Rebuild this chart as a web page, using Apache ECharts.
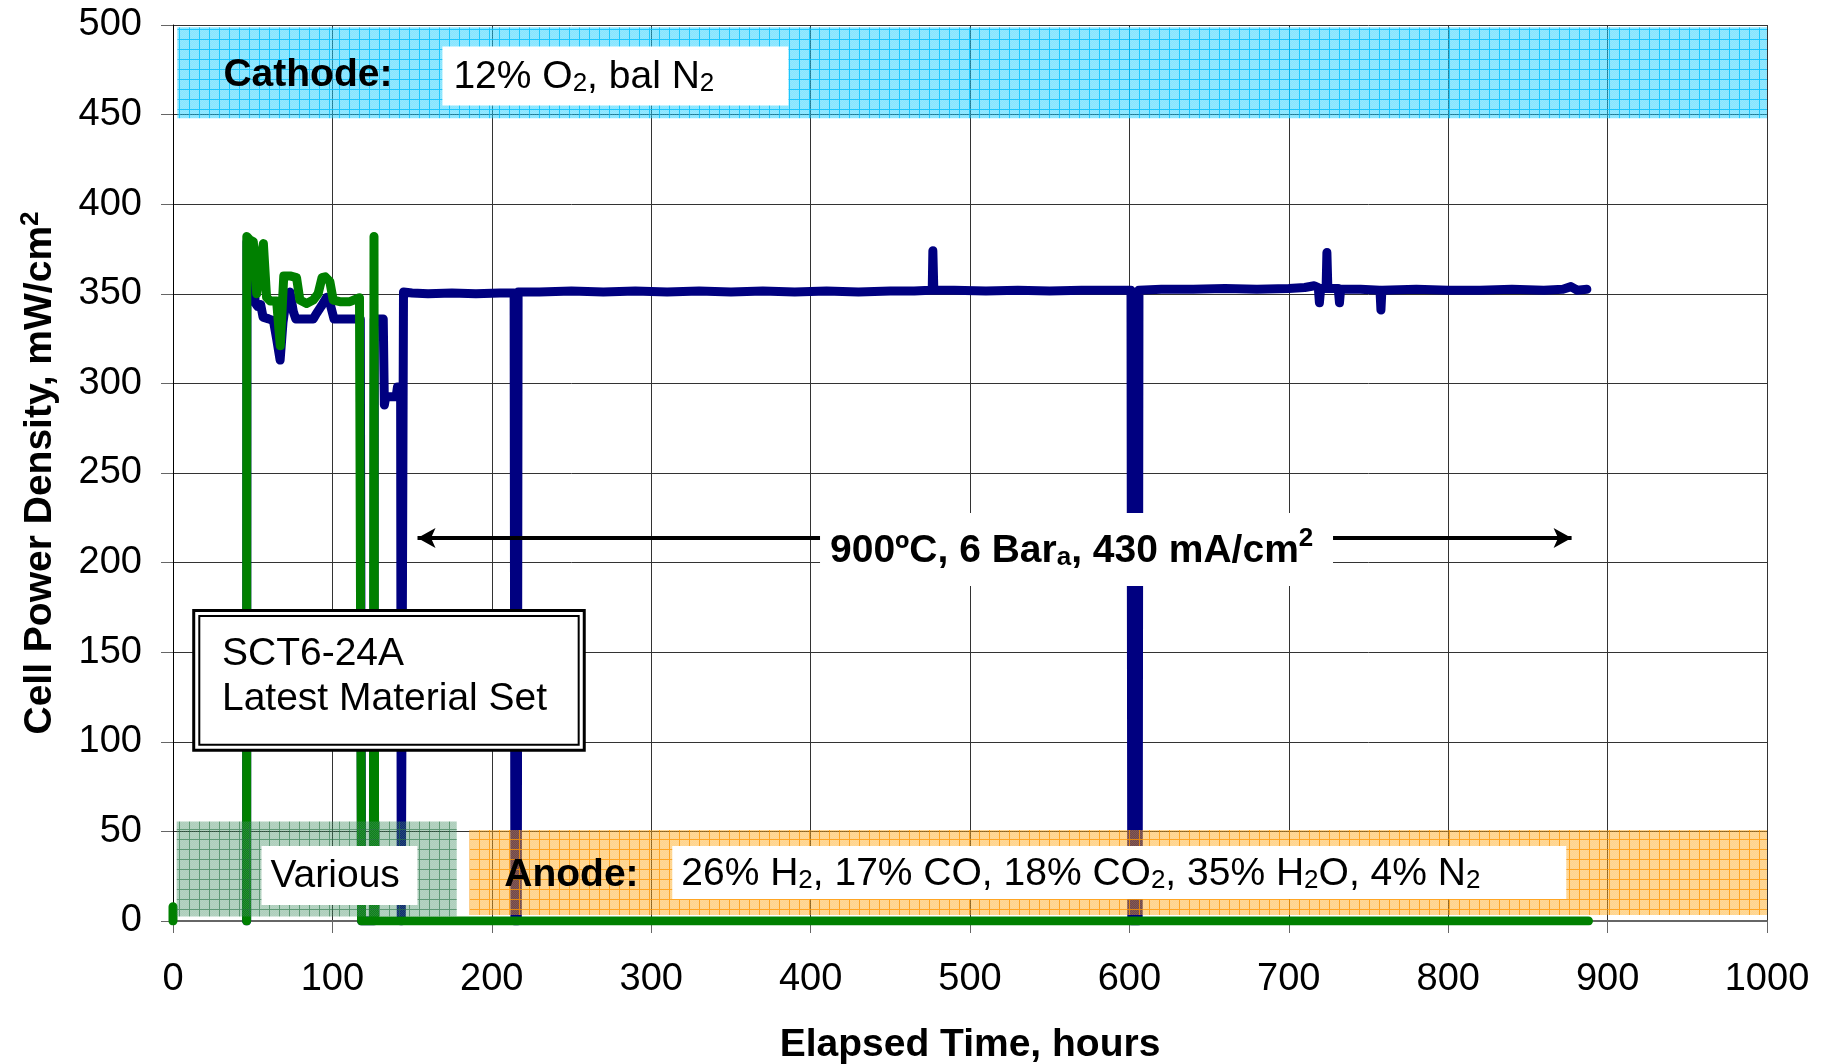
<!DOCTYPE html>
<html>
<head>
<meta charset="utf-8">
<script src="https://cdn.jsdelivr.net/npm/echarts@6/dist/echarts.min.js"></script>
<style>
  html, body { margin: 0; padding: 0; background: #fff; }
  #chart { width: 1829px; height: 1064px; }
</style>
</head>
<body>
<div id="chart"></div>
<script>
// SCT6-24A cell: power density against elapsed time.

// Axis ticks
const xTicks = [0, 100, 200, 300, 400, 500, 600, 700, 800, 900, 1000];
const yTicks = [0, 50, 100, 150, 200, 250, 300, 350, 400, 450, 500];

// Cell trace (navy), hours / mW/cm2
const blueHours = [
  46.2, 46.4, 48, 50.5, 51.5, 53, 55, 56.5, 60, 63, 65, 67.2, 69, 71.5, 73.4, 75.5, 77, 82, 88, 90,
  93, 96.4, 98.4, 101, 108, 117.5, 118.3, 125.9, 126.3, 131.9, 132.6, 133.5, 140, 140.8, 142.8, 143.2,
  144.2, 144.6, 150, 160, 175, 190, 205, 214, 214.5, 216, 216.5, 230, 250, 270, 290, 310, 330, 350,
  370, 390, 410, 430, 450, 465, 475, 476.3, 476.7, 477.3, 490, 510, 530, 550, 570, 590, 601, 601.5,
  605.5, 606, 620, 640, 660, 680, 700, 710, 716, 718.5, 719.2, 720, 723.4, 723.9, 724.5, 731, 731.8,
  732.5, 745, 757.2, 757.8, 758.4, 780, 800, 820, 840, 860, 872, 877, 881, 887
];
const bluePower = [
  0, 379, 377, 375, 345, 343, 344, 337, 336, 335, 325, 313, 334, 350, 351, 340, 336, 336, 336, 339,
  343, 348, 345, 336, 336, 336, 0, 0, 336, 336, 288, 292.6, 292.6, 298, 298, 0,
  0, 351, 350.5, 350, 350.5, 350, 350.5, 350.5, 0, 0, 351, 351, 351.5, 351, 351.5, 351, 351.5, 351,
  351.5, 351, 351.5, 351, 351.5, 351.5, 352, 352, 374, 352, 352, 351.5, 352, 351.5, 352, 352, 352, 0,
  0, 352, 352.5, 352.5, 353, 352.5, 353, 353.5, 354.5, 353.5, 345, 353, 353, 373, 353, 353, 345,
  352.5, 352.5, 352, 341, 352, 352.5, 352, 352, 352.5, 352, 352.5, 354, 352, 352.5
];

// Companion trace (green); null marks a gap in the record
const greenHours = [
  0, 0, 0.1, 46.2, 46.3, 48.3, 50.4, 51.5, 52.5, 55.5, 56.7, 58.7, 61, 65, 67.3, 69.5, 73.4, 77.5,
  79.6, 83.8, 88, 91, 93.5, 95.5, 98.4, 100.5, 104.7, 111, 117, 118.3, 125.7, 126.1, 126.5, 888
];
const greenPower = [
  0, 8, null, 0, 382, 380, 379, 378, 350, 372, 378, 348, 346, 346, 321, 360, 360, 359,
  346.5, 344.6, 346.5, 350, 359, 359.5, 356.8, 346.5, 345.6, 345.6, 347.8, 0, 0, 382, 0, 0
];

// Shaded gas-composition bands: [x0, y0, x1, y1]
const cathodeBand = [2.7, 448, 1000, 498.7];
const variousBand = [2.3, 2.5, 178, 55.5];
const anodeBand = [186, 3.3, 1000, 50.8];

// Double-ruled note box (outer and inner rules): [x0, y0, x1, y1]
const noteOuter = [13, 95.3, 258, 173.3];
const noteInner = [16.5, 98.4, 254.5, 170.2];

// Operating-condition arrow: [xStart, xEnd, y]
const arrowSpan = [153.4, 877.4, 213.7];

const FONT = "'Liberation Sans', Arial, Helvetica, sans-serif";

const rich = {
  n: { fontFamily: FONT, fontSize: 39, lineHeight: 45, color: '#000', verticalAlign: 'bottom' },
  s: { fontFamily: FONT, fontSize: 26, lineHeight: 22, color: '#000', verticalAlign: 'bottom' },
  b: { fontFamily: FONT, fontSize: 39, lineHeight: 45, fontWeight: 'bold', color: '#000', verticalAlign: 'bottom' },
  bs: { fontFamily: FONT, fontSize: 26, lineHeight: 22, fontWeight: 'bold', color: '#000', verticalAlign: 'bottom' },
  bsup: { fontFamily: FONT, fontSize: 26, lineHeight: 22, fontWeight: 'bold', color: '#000', verticalAlign: 'top' }
};

function hatch(fill, rule, dot) {
  const c = document.createElement('canvas');
  c.width = 10; c.height = 10;
  const g = c.getContext('2d');
  g.fillStyle = fill;
  g.fillRect(0, 0, 10, 10);
  g.fillStyle = dot;
  for (let i = 0; i < 10; i++) {
    for (let j = 0; j < 10; j++) {
      if ((i + j) % 2 === 0) g.fillRect(i, j, 1, 1);
    }
  }
  g.fillStyle = rule;
  g.fillRect(9, 0, 1, 10);
  g.fillRect(0, 9, 9, 1);
  return { image: c, repeat: 'repeat' };
}

const cyanFill = hatch('rgba(0,200,255,0.48)', 'rgba(0,190,255,0.80)', 'rgba(255,255,255,0.12)');
const greenFill = hatch('rgba(40,125,75,0.38)', 'rgba(40,115,70,0.60)', 'rgba(255,255,255,0.10)');
const orangeFill = hatch('rgba(255,160,0,0.45)', 'rgba(255,150,0,0.75)', 'rgba(255,255,255,0.10)');

function pairs(xs, ys) {
  return xs.map((x, i) => [x, ys[i] === null ? '-' : ys[i]]);
}

function band(b, fill) {
  return [
    { coord: [b[0], b[1]], itemStyle: { color: fill, borderWidth: 0 } },
    { coord: [b[2], b[3]] }
  ];
}

function note(coord, formatter, extra) {
  return {
    coord: coord,
    symbol: 'rect',
    symbolSize: 1,
    itemStyle: { color: 'rgba(0,0,0,0)' },
    label: Object.assign({
      show: true,
      position: 'right',
      distance: 0,
      align: 'left',
      formatter: formatter,
      rich: rich
    }, extra || {})
  };
}

const chart = echarts.init(document.getElementById('chart'));

chart.setOption({
  animation: false,
  backgroundColor: '#fff',
  grid: { left: 173, right: 62, top: 25, bottom: 143, containLabel: false, outerBoundsMode: 'none' },
  xAxis: {
    type: 'value',
    min: xTicks[0],
    max: xTicks[xTicks.length - 1],
    interval: xTicks[1] - xTicks[0],
    name: 'Elapsed Time, hours',
    nameLocation: 'middle',
    nameGap: 102,
    nameTextStyle: { fontFamily: FONT, fontSize: 39, fontWeight: 'bold', color: '#000', lineHeight: 45 },
    axisLine: { show: true, onZero: false, lineStyle: { color: '#666', width: 2 } },
    axisTick: { show: true, length: 12, lineStyle: { color: '#666', width: 1 } },
    axisLabel: { fontFamily: FONT, fontSize: 38, color: '#000', margin: 37, lineHeight: 44, formatter: v => String(v) },
    splitLine: { show: true, lineStyle: { color: '#333', width: 1 } }
  },
  yAxis: {
    type: 'value',
    min: yTicks[0],
    max: yTicks[yTicks.length - 1],
    interval: yTicks[1] - yTicks[0],
    name: 'Cell Power Density, mW/cm{bsup|2}',
    nameLocation: 'middle',
    nameGap: 110,
    nameTextStyle: { fontFamily: FONT, fontSize: 39, fontWeight: 'bold', color: '#000', lineHeight: 45, rich: rich },
    axisLine: { show: true, lineStyle: { color: '#000', width: 1 } },
    axisTick: { show: true, length: 12, lineStyle: { color: '#666', width: 1 } },
    axisLabel: { fontFamily: FONT, fontSize: 38, color: '#000', margin: 31, formatter: v => String(v) },
    splitLine: { show: true, lineStyle: { color: '#333', width: 1 } }
  },
  series: [
    {
      name: 'SCT6-24A',
      type: 'line',
      data: pairs(blueHours, bluePower),
      showSymbol: false,
      symbol: 'none',
      z: 2,
      lineStyle: { color: '#000080', width: 9, cap: 'round', join: 'round' },
      silent: true
    },
    {
      name: 'SCT6-24A (companion)',
      type: 'line',
      data: pairs(greenHours, greenPower),
      showSymbol: false,
      symbol: 'none',
      connectNulls: false,
      z: 2,
      lineStyle: { color: '#008000', width: 9, cap: 'round', join: 'round' },
      silent: true
    },
    {
      name: 'bands',
      type: 'line',
      data: [],
      markArea: {
        silent: true,
        z: 3,
        label: { show: false },
        data: [band(cathodeBand, cyanFill), band(variousBand, greenFill), band(anodeBand, orangeFill)]
      }
    },
    {
      name: 'note box',
      type: 'line',
      data: [],
      markArea: {
        silent: true,
        z: 6,
        label: { show: false },
        data: [
          [
            { coord: [noteOuter[0], noteOuter[1]], itemStyle: { color: '#fff', borderColor: '#000', borderWidth: 3 } },
            { coord: [noteOuter[2], noteOuter[3]] }
          ],
          [
            { coord: [noteInner[0], noteInner[1]], itemStyle: { color: 'rgba(0,0,0,0)', borderColor: '#000', borderWidth: 2 } },
            { coord: [noteInner[2], noteInner[3]] }
          ]
        ]
      }
    },
    {
      name: 'conditions arrow',
      type: 'line',
      data: [],
      markLine: {
        silent: true,
        z: 5,
        symbol: ['arrow', 'arrow'],
        symbolSize: [15, 18],
        label: { show: false },
        lineStyle: { color: '#000', width: 4, type: 'solid' },
        data: [[{ coord: [arrowSpan[0], arrowSpan[2]] }, { coord: [arrowSpan[1], arrowSpan[2]] }]]
      }
    },
    {
      name: 'notes',
      type: 'line',
      data: [],
      markPoint: {
        silent: true,
        z: 7,
        data: [
          note([31.3, 473.8], '{b|Cathode:}'),
          note([168.7, 471.5], '{n|12% O}{s|2}{n|, bal N}{s|2}',
            { backgroundColor: '#fff', padding: [5, 0, 9, 11], width: 335 }),
          note([55.2, 25.4], '{n|Various}',
            { backgroundColor: '#fff', padding: [5, 0, 9, 9], width: 147 }),
          note([207.5, 27.1], '{b|Anode:}'),
          note([312.9, 27.1], '{n|26% H}{s|2}{n|, 17% CO, 18% CO}{s|2}{n|, 35% H}{s|2}{n|O, 4% N}{s|2}',
            { backgroundColor: '#fff', padding: [3, 0, 5, 9], width: 885 }),
          note([30.4, 138.2], '{n|SCT6-24A}\n{n|Latest Material Set}', { lineHeight: 47 }),
          note([405.6, 207.3], '{b|900ºC, 6 Bar}{bs|a}{b|, 430 mA/cm}{bsup|2}',
            { backgroundColor: '#fff', padding: [13, 0, 15, 10], width: 503 })
        ]
      }
    }
  ]
});
</script>
</body>
</html>
